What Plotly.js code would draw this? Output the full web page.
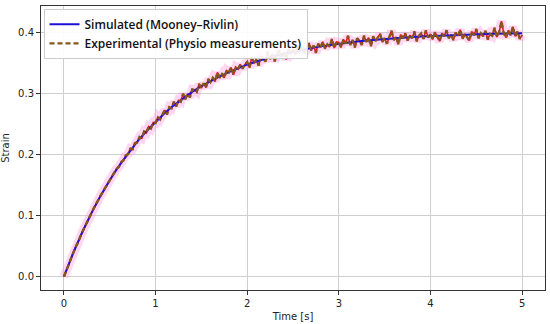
<!DOCTYPE html>
<html>
<head>
<meta charset="utf-8">
<script src="https://cdn.plot.ly/plotly-3.0.1.min.js"></script>
<style>html,body{margin:0;padding:0;background:#fff;}#chart{width:550px;height:324px;}</style>
</head>
<body>
<div id="chart"></div>
<script>
// Simulated (Mooney–Rivlin) curve, t step 0.1 s
const simTime = [0,0.1,0.2,0.3,0.4,0.5,0.6,0.7,0.8,0.9,1.0,1.1,1.2,1.3,1.4,1.5,1.6,1.7,1.8,1.9,2.0,2.1,2.2,2.3,2.4,2.5,2.6,2.7,2.8,2.9,3.0,3.1,3.2,3.3,3.4,3.5,3.6,3.7,3.8,3.9,4.0,4.1,4.2,4.3,4.4,4.5,4.6,4.7,4.8,4.9,5.0];
const simStrain = [0,0.0383,0.0729,0.1042,0.1325,0.1582,0.1814,0.2024,0.2214,0.2385,0.2541,0.2682,0.2809,0.2925,0.3029,0.3123,0.3208,0.3286,0.3355,0.3419,0.3476,0.3528,0.3575,0.3617,0.3655,0.3690,0.3721,0.3750,0.3776,0.3799,0.3820,0.3839,0.3856,0.3872,0.3886,0.3899,0.3910,0.3921,0.3930,0.3939,0.3946,0.3953,0.3960,0.3965,0.3971,0.3975,0.3979,0.3983,0.3987,0.3990,0.3993];

// Experimental (Physio measurements), t step 0.025 s from 0 to 5
const expStep = 0.025;
const expStrain = [
0.000,0.010,0.019,0.030,0.038,0.048,0.055,0.065,0.073,0.081,0.088,0.097,0.104,0.112,0.118,0.126,0.133,0.139,0.146,0.151,
0.159,0.164,0.170,0.177,0.180,0.188,0.191,0.199,0.201,0.210,0.209,0.219,0.220,0.229,0.227,0.238,0.236,0.246,0.243,0.253,
0.252,0.262,0.258,0.266,0.273,0.266,0.278,0.276,0.287,0.279,0.289,0.287,0.300,0.291,0.300,0.294,0.307,0.306,0.303,0.316,
0.309,0.317,0.310,0.324,0.319,0.326,0.320,0.335,0.326,0.332,0.326,0.338,0.335,0.343,0.331,0.343,0.340,0.348,0.341,0.348,
0.352,0.343,0.359,0.350,0.356,0.346,0.360,0.357,0.353,0.369,0.357,0.365,0.353,0.365,0.371,0.361,0.367,0.356,0.373,0.366,
0.372,0.364,0.379,0.370,0.376,0.366,0.376,0.383,0.371,0.379,0.367,0.382,0.376,0.385,0.374,0.381,0.377,0.390,0.375,0.385,
0.384,0.376,0.389,0.382,0.395,0.380,0.388,0.376,0.391,0.387,0.380,0.395,0.385,0.392,0.378,0.394,0.386,0.391,0.398,0.385,
0.391,0.382,0.394,0.403,0.388,0.393,0.381,0.397,0.391,0.399,0.387,0.396,0.391,0.402,0.386,0.395,0.399,0.390,0.404,0.392,
0.398,0.389,0.401,0.393,0.386,0.399,0.394,0.404,0.391,0.397,0.388,0.400,0.395,0.405,0.390,0.398,0.393,0.387,0.402,0.396,
0.406,0.391,0.399,0.394,0.403,0.389,0.398,0.395,0.408,0.393,0.401,0.419,0.399,0.392,0.404,0.396,0.410,0.394,0.402,0.390,
0.396];
const expTime = expStrain.map((_, i) => +(i * expStep).toFixed(3));

const xTicks = [0,1,2,3,4,5];
const yTicks = [0.0,0.1,0.2,0.3,0.4];
const yTickText = ['0.0','0.1','0.2','0.3','0.4'];

const traces = [
  {x: expTime, y: expStrain, mode: 'lines', line: {color: 'rgba(255,140,220,0.35)', width: 9}, showlegend: false, hoverinfo: 'skip'},
  {x: expTime, y: expStrain, mode: 'lines', line: {color: '#e8141c', width: 1.6}, showlegend: false, hoverinfo: 'skip'},
  {x: simTime, y: simStrain, mode: 'lines', name: 'Simulated (Mooney–Rivlin)', line: {color: '#1f10d8', width: 2}},
  {x: expTime, y: expStrain, mode: 'lines', name: 'Experimental (Physio measurements)', line: {color: '#86561c', width: 2.4, dash: '5px,3px'}}
];

const axisCommon = {
  showline: true, mirror: true, linecolor: '#333', linewidth: 1,
  showgrid: true, gridcolor: '#cfcfcf', gridwidth: 1,
  ticks: 'outside', ticklen: 4, tickcolor: '#333',
  zeroline: false,
  tickfont: {family: 'DejaVu Sans, sans-serif', size: 10, color: '#222'}
};

const layout = {
  width: 550, height: 324,
  margin: {l: 41, r: 5, t: 6, b: 34},
  paper_bgcolor: '#fff', plot_bgcolor: '#fff',
  xaxis: Object.assign({}, axisCommon, {
    range: [-0.25, 5.25], tickvals: xTicks, ticktext: xTicks.map(String),
    title: {text: 'Time [s]', font: {family: 'DejaVu Sans, sans-serif', size: 10, color: '#222'}, standoff: 4}
  }),
  yaxis: Object.assign({}, axisCommon, {
    range: [-0.0218, 0.4438], tickvals: yTicks, ticktext: yTickText,
    title: {text: 'Strain', font: {family: 'DejaVu Sans, sans-serif', size: 10, color: '#222'}, standoff: 6}
  }),
  legend: {
    x: 0.005, y: 0.99, xanchor: 'left', yanchor: 'top',
    bgcolor: 'rgba(255,255,255,0.9)', bordercolor: '#cccccc', borderwidth: 1,
    font: {family: 'Open Sans, sans-serif', size: 12, color: '#111', weight: 600},
    tracegroupgap: 0, itemwidth: 30
  },
  showlegend: true
};

Plotly.newPlot('chart', traces, layout, {staticPlot: true, displayModeBar: false});
</script>
</body>
</html>
